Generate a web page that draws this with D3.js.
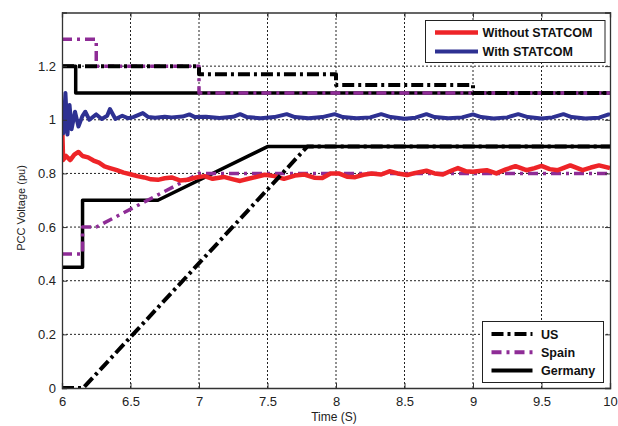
<!DOCTYPE html>
<html><head><meta charset="utf-8">
<script src="https://cdn.jsdelivr.net/npm/d3@7"></script>
<style>body{margin:0;background:#fff}svg{display:block}</style>
</head><body>
<script>
// ---- Data ----
const xTicks = [6, 6.5, 7, 7.5, 8, 8.5, 9, 9.5, 10];
const xTickLabels = ["6", "6.5", "7", "7.5", "8", "8.5", "9", "9.5", "10"];
const yTicks = [0, 0.2, 0.4, 0.6, 0.8, 1, 1.2];
const yTickLabels = ["0", "0.2", "0.4", "0.6", "0.8", "1", "1.2"];

// Without STATCOM (t, pu)
const withoutT = [6.0,6.008,6.03,6.06,6.09,6.12,6.15,6.19,6.23,6.27,6.31,6.35,6.4,6.45,6.5,6.55,6.6,6.65,6.7,6.75,6.8,6.86,6.92,6.98,7.04,7.1,7.18,7.25,7.3,7.36,7.42,7.48,7.55,7.62,7.7,7.77,7.84,7.9,7.96,8.02,8.08,8.14,8.2,8.26,8.33,8.39,8.45,8.52,8.58,8.66,8.72,8.78,8.84,8.89,8.95,9.0,9.06,9.1,9.17,9.24,9.31,9.39,9.45,9.5,9.56,9.62,9.71,9.8,9.86,9.92,10];
const withoutV = [1.0,0.85,0.865,0.85,0.87,0.88,0.865,0.86,0.848,0.84,0.826,0.82,0.812,0.803,0.797,0.79,0.785,0.778,0.776,0.782,0.785,0.774,0.776,0.785,0.79,0.78,0.787,0.778,0.772,0.78,0.787,0.795,0.79,0.78,0.792,0.796,0.784,0.783,0.8,0.8,0.788,0.786,0.795,0.8,0.796,0.808,0.8,0.794,0.802,0.81,0.8,0.796,0.81,0.82,0.808,0.806,0.81,0.812,0.8,0.815,0.827,0.812,0.82,0.828,0.816,0.812,0.83,0.812,0.822,0.83,0.82];

// With STATCOM (t, pu)
const withT = [6.0,6.01,6.025,6.04,6.055,6.07,6.095,6.12,6.15,6.17,6.2,6.25,6.29,6.33,6.35,6.39,6.44,6.48,6.52,6.59,6.63,6.68,6.75,6.8,6.88,6.93,6.97,7.05,7.15,7.25,7.3,7.35,7.45,7.55,7.64,7.7,7.8,7.9,7.99,8.05,8.15,8.25,8.33,8.4,8.5,8.58,8.66,8.72,8.82,8.92,9.0,9.06,9.15,9.25,9.33,9.4,9.5,9.58,9.66,9.72,9.82,9.92,9.99,10];
const withV = [1.0,0.95,1.1,0.945,1.055,0.965,1.03,0.975,1.015,1.03,1.0,1.02,1.003,1.015,1.04,1.003,1.015,1.006,1.01,1.025,1.01,1.008,1.011,1.009,1.012,1.02,1.01,1.011,1.007,1.011,1.021,1.01,1.006,1.01,1.021,1.01,1.006,1.01,1.021,1.01,1.006,1.009,1.021,1.01,1.004,1.008,1.021,1.01,1.006,1.009,1.02,1.01,1.005,1.009,1.021,1.01,1.005,1.009,1.021,1.01,1.005,1.008,1.02,1.018];

// Grid-code limits
const usLowT = [6, 6.155, 7.79, 10];
const usLowV = [0, 0, 0.9, 0.9];
const usHighT = [6, 7, 7, 8, 8, 9, 9, 10];
const usHighV = [1.2, 1.2, 1.17, 1.17, 1.13, 1.13, 1.1, 1.1];
const spainLowT = [6, 6.15, 6.15, 6.25, 7, 10];
const spainLowV = [0.5, 0.5, 0.6, 0.6, 0.8, 0.8];
const spainHighT = [6, 6.25, 6.25, 7, 7, 10];
const spainHighV = [1.3, 1.3, 1.2, 1.2, 1.1, 1.1];
const germanyLowT = [6, 6.15, 6.15, 6.7, 7.5, 10];
const germanyLowV = [0.45, 0.45, 0.7, 0.7, 0.9, 0.9];
const germanyHighT = [6, 6.1, 6.1, 10];
const germanyHighV = [1.2, 1.2, 1.1, 1.1];

const legend1 = ["Without STATCOM", "With STATCOM"];
const legend2 = ["US", "Spain", "Germany"];

// ---- Chart ----
const W = 618, H = 426;
const m = {left: 62, right: 8, top: 12.5, bottom: 38};
const svg = d3.select("body").append("svg").attr("width", W).attr("height", H);
const x = d3.scaleLinear().domain([6, 10]).range([m.left, W - m.right]);
const y = d3.scaleLinear().domain([0, 1.4]).range([H - m.bottom, m.top]);
const zip = (a, b) => a.map((t, i) => [t, b[i]]);
const line = d3.line().x(d => x(d[0])).y(d => y(d[1]));

const RED = "#EE2428", BLUE = "#2E3192", PURPLE = "#8E2C96", BLACK = "#000";
const US_DASH = "12,4,3,4", SP_DASH = "10,5,3,5";

const font = "Arial, 'Liberation Sans', sans-serif";

// grid
const grid = svg.append("g");
xTicks.slice(1, -1).forEach(t => grid.append("line")
  .attr("x1", x(t)).attr("x2", x(t)).attr("y1", y(0)).attr("y2", m.top)
  .attr("stroke", "#222").attr("stroke-width", 1).attr("stroke-dasharray", "2,2"));
yTicks.slice(1).forEach(v => grid.append("line")
  .attr("x1", x(6)).attr("x2", x(10)).attr("y1", y(v)).attr("y2", y(v))
  .attr("stroke", "#222").attr("stroke-width", 1).attr("stroke-dasharray", "2,2"));

const clip = svg.append("clipPath").attr("id", "c").append("rect")
  .attr("x", m.left).attr("y", m.top).attr("width", W - m.left - m.right).attr("height", H - m.top - m.bottom);
const plot = svg.append("g").attr("clip-path", "url(#c)");

function draw(t, v, color, w, dash) {
  plot.append("path").datum(zip(t, v)).attr("d", line)
    .attr("fill", "none").attr("stroke", color).attr("stroke-width", w)
    .attr("stroke-dasharray", dash || null).attr("stroke-linejoin", "round");
}
draw(germanyLowT, germanyLowV, BLACK, 3.5);
draw(germanyHighT, germanyHighV, BLACK, 3.5);
draw(spainLowT, spainLowV, PURPLE, 3.5, SP_DASH);
draw(spainHighT, spainHighV, PURPLE, 3.5, SP_DASH);
draw(withoutT, withoutV, RED, 4.5);
draw(withT, withV, BLUE, 4);
draw(usLowT, usLowV, BLACK, 4, US_DASH);
draw(usHighT, usHighV, BLACK, 4, US_DASH);

// axes
svg.append("g").attr("transform", `translate(0,${y(0)})`)
  .call(d3.axisBottom(x).tickValues(xTicks).tickFormat((d, i) => xTickLabels[i]).tickSize(-5).tickPadding(9));
svg.append("g").attr("transform", `translate(${m.left},0)`)
  .call(d3.axisLeft(y).tickValues(yTicks).tickFormat((d, i) => yTickLabels[i]).tickSize(-5).tickPadding(6));
svg.append("g").attr("transform", `translate(0,${m.top})`)
  .call(d3.axisTop(x).tickValues(xTicks).tickFormat("").tickSize(-5));
svg.append("g").attr("transform", `translate(${W - m.right},0)`)
  .call(d3.axisRight(y).tickValues(yTicks).tickFormat("").tickSize(-5));
svg.selectAll(".domain").attr("stroke", "#333").attr("stroke-width", 1.3);
svg.selectAll(".tick line").attr("stroke", "#333");
svg.selectAll(".tick text").attr("font-family", font).attr("font-size", 13).attr("fill", "#222");

svg.append("text").attr("x", 334).attr("y", 421).attr("text-anchor", "middle")
  .attr("font-family", font).attr("font-size", 12).attr("fill", "#222").text("Time (S)");
svg.append("text").attr("transform", "translate(25,208) rotate(-90)").attr("text-anchor", "middle")
  .attr("font-family", font).attr("font-size", 11).attr("fill", "#222").text("PCC Voltage (pu)");

// legend 1
const l1 = svg.append("g");
l1.append("rect").attr("x", 425.5).attr("y", 20.5).attr("width", 179.5).attr("height", 42)
  .attr("fill", "#fff").attr("stroke", "#222").attr("stroke-width", 1);
[[RED, 4.5], [BLUE, 4]].forEach((c, i) => {
  const yy = 32.5 + i * 19;
  l1.append("line").attr("x1", 435).attr("x2", 478).attr("y1", yy).attr("y2", yy)
    .attr("stroke", c[0]).attr("stroke-width", c[1]);
  l1.append("text").attr("x", 482.5).attr("y", yy + 4.5).attr("font-family", font)
    .attr("font-weight", "bold").attr("font-size", 12.5).attr("fill", "#111").text(legend1[i]);
});
// legend 2
const l2 = svg.append("g");
l2.append("rect").attr("x", 482.5).attr("y", 321.5).attr("width", 121).attr("height", 61)
  .attr("fill", "#fff").attr("stroke", "#222").attr("stroke-width", 1);
[[BLACK, US_DASH], [PURPLE, SP_DASH], [BLACK, null]].forEach((c, i) => {
  const yy = 334 + i * 18.2;
  l2.append("line").attr("x1", 491.5).attr("x2", 532.5).attr("y1", yy).attr("y2", yy)
    .attr("stroke", c[0]).attr("stroke-width", 4).attr("stroke-dasharray", c[1]);
  l2.append("text").attr("x", 541).attr("y", yy + 4.5).attr("font-family", font)
    .attr("font-weight", "bold").attr("font-size", 12.5).attr("fill", "#111").text(legend2[i]);
});
</script>
</body></html>
